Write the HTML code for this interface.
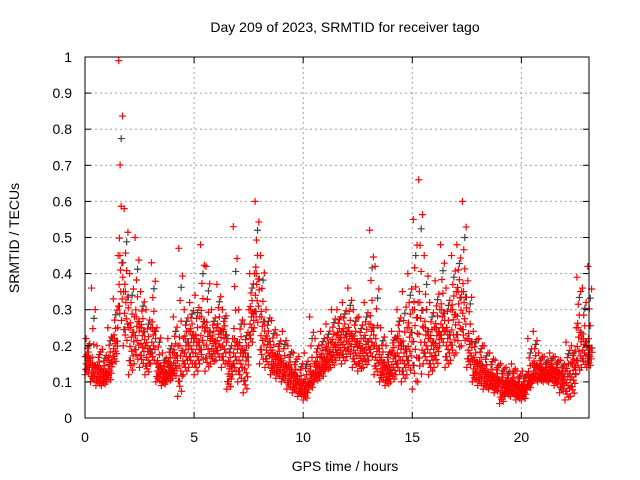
<!DOCTYPE html>
<html><head><meta charset="utf-8"><style>
body{margin:0;background:#fff}
svg{display:block;font-family:"Liberation Sans",sans-serif;font-size:14px}
</style></head><body>
<svg id="c" width="640" height="480">
<rect width="640" height="480" fill="#fff"/>
<g id="grid"></g><g id="pts"></g><g id="axes"></g>
</svg>
<script>
const binTimes=[0,0.25,0.5,0.75,1,1.25,1.5,1.75,2,2.25,2.5,2.75,3,3.25,3.5,3.75,4,4.25,4.5,4.75,5,5.25,5.5,5.75,6,6.25,6.5,6.75,7,7.25,7.5,7.75,8,8.25,8.5,8.75,9,9.25,9.5,9.75,10,10.25,10.5,10.75,11,11.25,11.5,11.75,12,12.25,12.5,12.75,13,13.25,13.5,13.75,14,14.25,14.5,14.75,15,15.25,15.5,15.75,16,16.25,16.5,16.75,17,17.25,17.5,17.75,18,18.25,18.5,18.75,19,19.25,19.5,19.75,20,20.25,20.5,20.75,21,21.25,21.5,21.75,22,22.25,22.5,22.75,23];
const loVals=[.12,.10,.09,.09,.10,.15,.25,.20,.12,.15,.14,.12,.15,.10,.09,.10,.11,.06,.12,.14,.12,.15,.13,.15,.16,.14,.08,.12,.10,.07,.20,.25,.15,.14,.12,.11,.10,.08,.07,.06,.05,.08,.10,.11,.13,.14,.16,.15,.17,.14,.13,.14,.16,.12,.10,.09,.10,.12,.10,.12,.08,.10,.15,.12,.14,.20,.14,.16,.18,.20,.14,.10,.09,.08,.08,.07,.04,.06,.06,.05,.05,.08,.10,.10,.10,.10,.09,.07,.05,.06,.12,.14,.14];
const midVals=[.17,.15,.14,.13,.16,.22,.45,.35,.25,.28,.25,.20,.25,.15,.13,.15,.18,.20,.22,.24,.22,.28,.25,.22,.25,.24,.15,.22,.20,.18,.30,.40,.28,.22,.18,.17,.15,.14,.12,.10,.10,.13,.15,.17,.19,.21,.23,.24,.24,.22,.20,.22,.26,.20,.16,.14,.18,.22,.20,.25,.30,.32,.25,.22,.25,.30,.24,.30,.35,.35,.22,.16,.15,.13,.12,.11,.10,.10,.10,.09,.09,.12,.15,.14,.13,.14,.13,.12,.13,.15,.25,.22,.20];
const hiVals=[.22,.36,.20,.19,.25,.33,.99,.58,.40,.50,.35,.30,.43,.25,.18,.22,.28,.47,.30,.32,.34,.48,.42,.30,.37,.30,.22,.53,.30,.26,.40,.60,.45,.30,.27,.23,.24,.20,.18,.17,.18,.28,.22,.24,.26,.30,.30,.32,.36,.30,.28,.32,.52,.42,.25,.20,.24,.30,.35,.40,.55,.66,.45,.32,.38,.48,.36,.45,.48,.60,.38,.24,.22,.20,.18,.16,.15,.14,.15,.13,.13,.22,.24,.18,.17,.18,.17,.16,.21,.20,.39,.36,.42];
const xTicks=[0,5,10,15,20];
const yTicks=[0,0.1,0.2,0.3,0.4,0.5,0.6,0.7,0.8,0.9,1];
const yTickLabels=["0","0.1","0.2","0.3","0.4","0.5","0.6","0.7","0.8","0.9","1"];

const XMAX=23.1;
const L=85,R=589,T=57,B=418;
const X=v=>L+v/XMAX*(R-L);
const Y=v=>B-v*(B-T);
const NS="http://www.w3.org/2000/svg";
function mk(tag,attrs,parent){const e=document.createElementNS(NS,tag);for(const k in attrs)e.setAttribute(k,attrs[k]);parent.appendChild(e);return e;}
const grid=document.getElementById('grid'),pts=document.getElementById('pts'),axes=document.getElementById('axes');

xTicks.forEach((t,i)=>{
  if(t>0){const g=mk('line',{x1:X(t),x2:X(t),y1:T,y2:B,stroke:'#a0a0a0','stroke-dasharray':'2,3'},grid);
  
  }
  mk('line',{x1:X(t),x2:X(t),y1:B,y2:B-6,stroke:'#000'},axes);
  mk('line',{x1:X(t),x2:X(t),y1:T,y2:T+6,stroke:'#000'},axes);
  const tx=mk('text',{x:X(t),y:B+24,'text-anchor':'middle'},axes);tx.textContent=t;
  
  
});
yTicks.forEach((t,i)=>{
  if(t>0&&t<1){const g=mk('line',{x1:L,x2:R,y1:Y(t),y2:Y(t),stroke:'#a0a0a0','stroke-dasharray':'2,3'},grid);
  
  }
  mk('line',{x1:L,x2:L+6,y1:Y(t),y2:Y(t),stroke:'#000'},axes);
  mk('line',{x1:R,x2:R-6,y1:Y(t),y2:Y(t),stroke:'#000'},axes);
  const tx=mk('text',{x:L-13,y:Y(t)+5,'text-anchor':'end'},axes);tx.textContent=yTickLabels[i];
  
  
});
const fr=mk('rect',{x:L,y:T,width:R-L,height:B-T,fill:'none',stroke:'#000'},axes);


let t1=mk('text',{x:345,y:32,'text-anchor':'middle'},axes);t1.textContent='Day 209 of 2023, SRMTID for receiver tago';


let t2=mk('text',{x:345,y:471,'text-anchor':'middle'},axes);t2.textContent='GPS time / hours';


let t3=mk('text',{x:19,y:238,'text-anchor':'middle',transform:'rotate(-90 19 238)'},axes);t3.textContent='SRMTID / TECUs';



const frac=[0,0.5,0.15,1,0.3,0.6,0.1,0.8,0.4,0.25,0.7,0.05,0.45,0.2,0.9,0.35];
function plus(x,y,col){
  const p=mk('path',{d:`M${x-3.5} ${y}h7M${x} ${y-3.5}v7`,stroke:col,'stroke-width':1.2,fill:'none'},pts);
  
  
}
binTimes.forEach((t,i)=>{
  const lo=loVals[i],mid=midVals[i],hi=hiVals[i];
  frac.forEach((f,k)=>{
    if(k%5===2){const v=f<0.5?lo+(mid-lo)*f*2:mid+(hi-mid)*(f-0.5)*2;plus(X(t+k*0.0156+0.05),Y(v),'#444');}
  });
});
binTimes.forEach((t,i)=>{
  const lo=loVals[i],mid=midVals[i],hi=hiVals[i];
  frac.forEach((f,k)=>{
    let v=f<0.5?lo+(mid-lo)*f*2:mid+(hi-mid)*Math.pow((f-0.5)*2,1.5);
    plus(X(t+k*0.0156),Y(v),'#ff0000');
  });
  plus(X(t+0.1),Y(mid),'#ff0000');
});
</script>
</body></html>
